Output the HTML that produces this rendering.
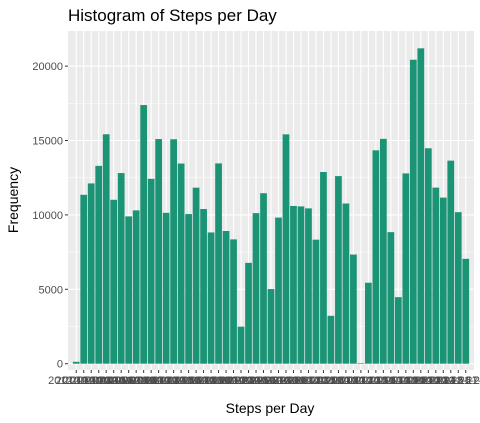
<!DOCTYPE html>
<html><head><meta charset="utf-8"><style>
body{margin:0;background:#fff;}
svg{display:block;font-family:"Liberation Sans",sans-serif;}
</style></head><body>
<svg id="c" width="480" height="423">
<text x="68" y="21" font-size="17" fill="#000">Histogram of Steps per Day</text>
<text transform="translate(18,200) rotate(-90)" text-anchor="middle" font-size="14" fill="#000">Frequency</text>
<text x="270" y="413" text-anchor="middle" font-size="14" fill="#000">Steps per Day</text>
</svg>
<script>
const values=[126,11352,12116,13294,15420,11015,12811,9900,10304,17382,12426,15098,10139,15084,13452,10056,11829,10395,8821,13460,8918,8355,2492,6778,10119,11458,5018,9819,15414,10600,10571,10439,8334,12883,3219,12608,10765,7336,41,5441,14339,15110,8841,4472,12787,20427,21194,14478,11834,11162,13646,10183,7047];
const naDays=["2012-10-01","2012-10-08","2012-11-01","2012-11-04","2012-11-09","2012-11-10","2012-11-14","2012-11-30"];
const yTicks=[0,5000,10000,15000,20000];
const categories=[];
(function(){for(let m=10;m<=11;m++){const n=m==10?31:30;for(let d=1;d<=n;d++){const s="2012-"+m+"-"+(d<10?"0":"")+d;if(naDays.indexOf(s)<0)categories.push(s);}}})();
const NS="http://www.w3.org/2000/svg";
const svg=document.getElementById("c");
const L=68,R=474,T=31,B=370;
const yMin=-1060,yMax=22250;
function y(v){return 363.7-(v)*(74.4/5000);}
const bw=(R-L)/(categories.length+1.2);
function xc(i){return L+bw*(0.6+i+0.5);}
function mk(t,a){const e=document.createElementNS(NS,t);for(const k in a)e.setAttribute(k,a[k]);svg.appendChild(e);return e;}
const bg=mk("rect",{x:L,y:T,width:R-L,height:B-T,fill:"#ebebeb"});


for(let i=0;i<yTicks.length;i++){
 const v=yTicks[i];
 if(i>0){const m=mk("line",{x1:L,x2:R,y1:y(v-2500),y2:y(v-2500),stroke:"#fff","stroke-width":0.5});}
 const g=mk("line",{x1:L,x2:R,y1:y(v),y2:y(v),stroke:"#fff","stroke-width":1.1});
 
 
 const tk=mk("line",{x1:L-3,x2:L,y1:y(v),y2:y(v),stroke:"#333","stroke-width":1});
 const t=mk("text",{x:L-5,y:y(v)+4,"text-anchor":"end","font-size":"11",fill:"#4d4d4d"});
 t.textContent=v;
 
 
}
mk("line",{x1:L,x2:R,y1:y(22500),y2:y(22500),stroke:"#fff","stroke-width":0.5});
for(let i=0;i<categories.length;i++){
 mk("line",{x1:xc(i),x2:xc(i),y1:T,y2:B,stroke:"#fff","stroke-width":1.1});
}
for(let i=0;i<values.length;i++){
 const r=mk("rect",{x:xc(i)-bw*0.45,y:y(values[i]),width:bw*0.9,height:y(0)-y(values[i]),fill:"#1b9476"});
 
 
 mk("line",{x1:xc(i),x2:xc(i),y1:B,y2:B+3,stroke:"#333","stroke-width":1});
 const t=mk("text",{x:xc(i),y:B+14,"text-anchor":"middle","font-size":"11",fill:"#4d4d4d"});
 t.textContent=categories[i];
 
 
}
</script>
</body></html>
